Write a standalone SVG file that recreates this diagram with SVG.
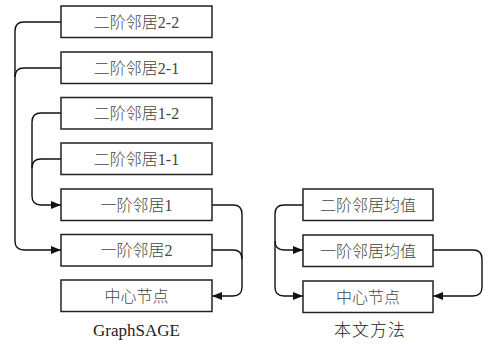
<svg xmlns="http://www.w3.org/2000/svg" width="494" height="344" viewBox="0 0 494 344">
<style>
.box{fill:#fff;stroke:#222;stroke-width:1.5}
.t{font-family:"Liberation Serif","Noto Sans CJK SC",serif;font-size:16px;font-weight:300;fill:#444;text-anchor:middle}
.cap{font-family:"Liberation Serif","Noto Sans CJK SC",serif;font-size:17px;font-weight:300;fill:#222;text-anchor:middle}
.c{fill:none;stroke:#111;stroke-width:1.4}
</style>
<defs>
<marker id="ah" markerUnits="userSpaceOnUse" markerWidth="10" markerHeight="10" refX="10" refY="5" orient="auto">
<path d="M0,1 L10,5 L0,9 Z" fill="#111"/>
</marker>
</defs>
<rect width="494" height="344" fill="#fff"/>
<g id="connectors">
<path class="c" d="M61,22 H24 Q15,22 15,31 V241 Q15,250 24,250 H61" marker-end="url(#ah)"/>
<path class="c" d="M61,68 H24 Q15,68 15,77"/>
<path class="c" d="M61,113 H41 Q32,113 32,122 V196 Q32,205 41,205 H61" marker-end="url(#ah)"/>
<path class="c" d="M61,159 H41 Q32,159 32,168"/>
<path class="c" d="M212,205 H233 Q242,205 242,214 V287 Q242,296 233,296 H212" marker-end="url(#ah)"/>
<path class="c" d="M212,250 H233 Q242,250 242,259"/>
<path class="c" d="M303,205 H284 Q275,205 275,214 V241 Q275,250 284,250 H303" marker-end="url(#ah)"/>
<path class="c" d="M275,241 V287 Q275,296 284,296 H303" marker-end="url(#ah)"/>
<path class="c" d="M433,250 H473 Q482,250 482,259 V287 Q482,296 473,296 H433" marker-end="url(#ah)"/>
</g>
<g id="n1"><rect class="box" x="61" y="6" width="151" height="31.5"/><text class="t" x="136.5" y="27.5">二阶邻居2-2</text></g>
<g id="n2"><rect class="box" x="61" y="52" width="151" height="31.5"/><text class="t" x="136.5" y="73.5">二阶邻居2-1</text></g>
<g id="n3"><rect class="box" x="61" y="97.5" width="151" height="31.5"/><text class="t" x="136.5" y="119">二阶邻居1-2</text></g>
<g id="n4"><rect class="box" x="61" y="143" width="151" height="31.5"/><text class="t" x="136.5" y="164.5">二阶邻居1-1</text></g>
<g id="n5"><rect class="box" x="61" y="189" width="151" height="31.5"/><text class="t" x="136.5" y="210.5">一阶邻居1</text></g>
<g id="n6"><rect class="box" x="61" y="234.5" width="151" height="31.5"/><text class="t" x="136.5" y="256">一阶邻居2</text></g>
<g id="n7"><rect class="box" x="61" y="280" width="151" height="31.5"/><text class="t" x="136.5" y="301.5">中心节点</text></g>
<g id="m1"><rect class="box" x="303" y="189" width="130" height="31.5"/><text class="t" x="368" y="210.5">二阶邻居均值</text></g>
<g id="m2"><rect class="box" x="303" y="235" width="130" height="31.5"/><text class="t" x="368" y="256.5">一阶邻居均值</text></g>
<g id="m3"><rect class="box" x="303" y="281" width="130" height="31.5"/><text class="t" x="368" y="302.5">中心节点</text></g>
<text class="cap" x="136.5" y="336">GraphSAGE</text>
<text class="cap" x="370" y="336" letter-spacing="1">本文方法</text>
</svg>
